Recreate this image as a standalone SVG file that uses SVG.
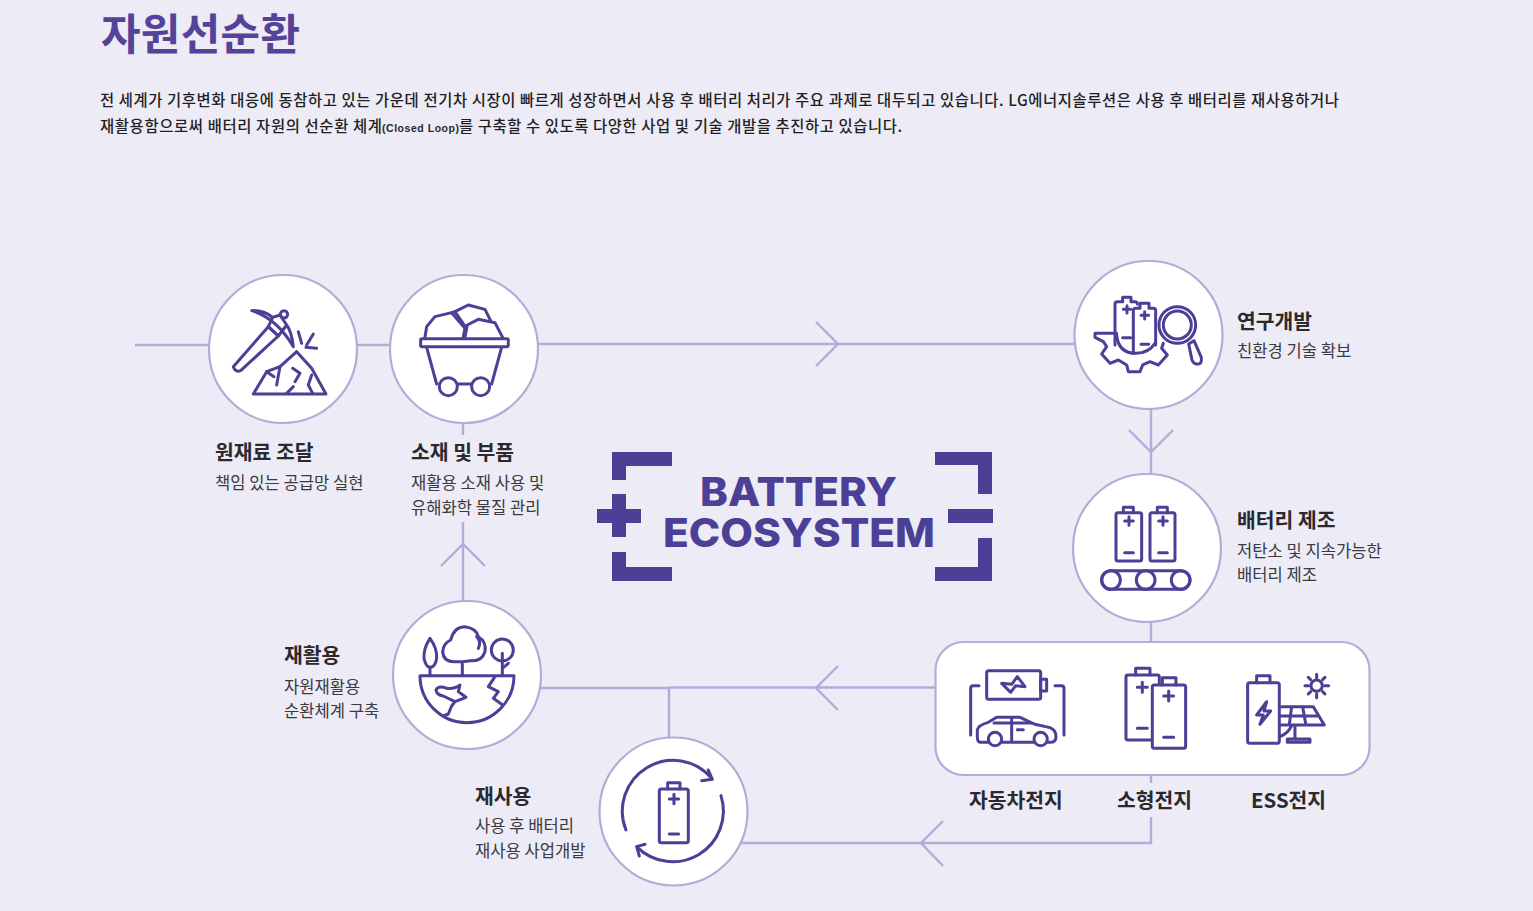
<svg xmlns="http://www.w3.org/2000/svg" width="1533" height="911" viewBox="0 0 1533 911">
<style>
text{font-family:"Noto Sans CJK KR","Noto Sans",sans-serif;fill:#2a2a2e}
.title{font-size:43px;font-weight:700;fill:#55439a}
.para{font-size:15.4px;font-weight:500;fill:#1f1f23}
.small{font-family:"Liberation Sans","Noto Sans CJK KR",sans-serif;font-size:10.5px;font-weight:700}
.h{font-size:20.4px;font-weight:700}
.s{font-size:16.6px;font-weight:400;fill:#3a3a40}
.logo{font-family:Inter,"Liberation Sans",sans-serif;font-size:40px;font-weight:800;fill:#4b3f96}
.c{fill:#fff;stroke:#b3acd8;stroke-width:2.2}
.l{fill:none;stroke:#b3acd8;stroke-width:2.4}
.i{fill:none;stroke:#4b3f96;stroke-width:9;stroke-linejoin:round;stroke-linecap:round}
.iw{fill:#fff}
.b{fill:#4b3f96}
</style>
<rect width="1533" height="911" fill="#edebf6"/>
<g id="header">
<text class="title" x="101" y="50" textLength="199" lengthAdjust="spacing">자원선순환</text>
<text class="para" x="100" y="106" textLength="1239" lengthAdjust="spacing">전 세계가 기후변화 대응에 동참하고 있는 가운데 전기차 시장이 빠르게 성장하면서 사용 후 배터리 처리가 주요 과제로 대두되고 있습니다. LG에너지솔루션은 사용 후 배터리를 재사용하거나</text>
<text class="para" x="100" y="132" textLength="282" lengthAdjust="spacing">재활용함으로써 배터리 자원의 선순환 체계</text>
<text class="small" x="382" y="132" textLength="77" lengthAdjust="spacing">(Closed Loop)</text>
<text class="para" x="459" y="132" textLength="443" lengthAdjust="spacing">를 구축할 수 있도록 다양한 사업 및 기술 개발을 추진하고 있습니다.</text>
</g>
<g id="connectors" class="l">
<path d="M135 345H209M357 345H390M538 344H1074"/>
<path d="M816 322L838 344L816 366"/>
<path d="M1151 408V474M1129 430L1151 452L1173 430"/>
<path d="M1151 622V642M1151 775V783M1151 817V843H741"/>
<path d="M943 821L921 843L943 866"/>
<path d="M541 688H669M669 687.5H935M838 666L816 688L838 710"/>
<path d="M669 687V738"/>
<path d="M463 423V435M463 522V601M441 566L463 544L485 566"/>
</g>
<g id="logo">
<path class="b" d="M612 452H672V466H626V480H612Z"/>
<path class="b" d="M612 494H626V509H641V523H626V537H612V523H597V509H612Z"/>
<path class="b" d="M612 552H626V567H672V581H612Z"/>
<path class="b" d="M935 452H992V494H978V465H935Z"/>
<path class="b" d="M948 509H993V523H948Z"/>
<path class="b" d="M978 538H992V581H935V567H978Z"/>
<text class="logo"><tspan x="700" y="506" textLength="197" lengthAdjust="spacingAndGlyphs">BATTERY</tspan><tspan x="663" y="547" textLength="272" lengthAdjust="spacingAndGlyphs">ECOSYSTEM</tspan></text>
</g>
<g id="node-raw">
<circle class="c" cx="283" cy="349" r="74"/>
<g class="i" transform="translate(130 260) scale(.3333)">
<path d="M310 320L415 200L445 228L332 332Q316 338 310 320Z"/>
<path d="M415 200L428 172L450 165L470 195L445 228Z"/>
<path d="M428 172Q400 150 365 152Q440 175 490 260Q485 215 470 195"/>
<circle cx="462" cy="163" r="11"/>
<path d="M505 215L515 250M550 222L530 255M528 262L560 265"/>
<path d="M370 402H588L545 325L500 275L450 320L410 335Z"/>
<path d="M410 335L432 350M450 320L440 375M488 325L510 340L495 365M545 345L535 375L548 400M470 400L490 380"/>
</g>
<text class="h" x="215" y="460">원재료 조달</text>
<text class="s" x="215" y="489">책임 있는 공급망 실현</text>
</g>
<g id="node-material">
<circle class="c" cx="464" cy="349" r="74"/>
<g class="i" transform="translate(130 260) scale(.3333)">
<path d="M885 232L890 200L915 170L965 158L1005 205L1000 232"/>
<path d="M975 155L1015 135L1065 148L1082 182"/>
<path d="M965 158L975 155L1005 198"/>
<path d="M1005 232L1012 195L1045 178L1095 188L1118 232"/>
<rect x="872" y="236" width="263" height="24" rx="4"/>
<path d="M890 262L920 372M1115 262L1085 372M985 372H1022"/>
<circle cx="955" cy="380" r="27"/>
<circle cx="1052" cy="380" r="27"/>
</g>
<text class="h" x="411" y="460">소재 및 부품</text>
<text class="s" x="411" y="489">재활용 소재 사용 및</text>
<text class="s" x="411" y="514">유해화학 물질 관리</text>
</g>
<g id="node-rnd">
<circle class="c" cx="1148.5" cy="335" r="74"/>
<g class="i" transform="translate(1060 250) scale(.3333)">
<path d="M165 285V162Q165 155 172 155H188V142H213V155H225Q232 155 232 162"/>
<path d="M220 310V182Q220 175 227 175H240V160H267V175H280Q287 175 287 182V285"/>
<path d="M190 178H212M201 167V189M243 196H266M254 185V207M188 263H212M243 283H266"/>
<path d="M170 250H105V262L130 275L140 290L125 312L150 340L175 330L200 345L205 365H240L248 345L270 335L295 345L322 315L305 295L310 280"/>
<path d="M170 255Q175 310 228 310Q265 310 285 280"/>
<circle cx="352" cy="225" r="55"/>
<circle cx="352" cy="225" r="42"/>
<path d="M386 282L402 272L424 322Q428 345 408 342Q400 340 396 330Z"/>
</g>
<text class="h" x="1237" y="329">연구개발</text>
<text class="s" x="1237" y="357">친환경 기술 확보</text>
</g>
<g id="node-mfg">
<circle class="c" cx="1147" cy="548" r="74"/>
<g class="i" transform="translate(1060 250) scale(.3333)">
<rect x="168" y="788" width="77" height="145" rx="6"/>
<path d="M190 788V772H220V788M194 813H220M207 800V826M194 908H220"/>
<rect x="270" y="788" width="75" height="145" rx="6"/>
<path d="M292 788V772H322V788M296 813H322M309 800V826M296 908H322"/>
<rect x="125" y="962" width="265" height="56" rx="28"/>
<circle cx="153" cy="990" r="28"/>
<circle cx="257" cy="990" r="28"/>
<circle cx="362" cy="990" r="28"/>
</g>
<text class="h" x="1237" y="528">배터리 제조</text>
<text class="s" x="1237" y="557">저탄소 및 지속가능한</text>
<text class="s" x="1237" y="581">배터리 제조</text>
</g>
<g id="node-products">
<rect class="c" x="935.5" y="642" width="434" height="133" rx="28"/>
<g class="i" transform="translate(930 635) scale(.3333)">
<rect x="170" y="107" width="162" height="86" rx="6"/>
<rect x="332" y="133" width="18" height="35"/>
<path d="M215 145L245 148L262 125L285 155L257 152L242 172Z"/>
<path d="M147 152H130Q122 152 122 160V300M375 152H394Q402 152 402 160V300"/>
<path d="M175 322H152Q142 322 142 305V285Q145 270 175 262L200 247H270L315 268L360 278Q378 285 378 305Q378 322 360 322H352M312 322H215"/>
<path d="M192 264H302M245 248V318M262 284H280"/>
<circle cx="195" cy="312" r="20"/>
<circle cx="332" cy="312" r="20"/>
<path d="M617 120V100H660V120"/>
<rect x="588" y="120" width="100" height="195" rx="6"/>
<path d="M622 157H652M637 142V172M622 280H652"/>
<rect class="iw" x="667" y="150" width="100" height="190" rx="6"/>
<path d="M697 150V128H738V150"/>
<path d="M701 183H731M716 168V198M701 307H731"/>
<rect x="953" y="143" width="95" height="182" rx="6"/>
<path d="M980 143V122H1020V143"/>
<path d="M1010 200L980 240H1000L990 268L1022 228H1002Z"/>
<path d="M1055 215H1150L1183 270H1050M1085 215L1078 270M1118 215L1128 270M1052 243H1165M1095 270V312M1072 322V312H1140V322H1072M1050 305Q1075 295 1085 272"/>
<circle cx="1160" cy="152" r="17"/>
<path d="M1160 118V128M1160 176V188M1125 152H1136M1184 152H1196M1135 127L1142 134M1178 170L1185 177M1135 177L1142 170M1178 134L1185 127"/>
</g>
<text class="h" x="969" y="808">자동차전지</text>
<text class="h" x="1117" y="808">소형전지</text>
<text class="h" x="1251" y="808">ESS전지</text>
</g>
<g id="node-recycle">
<circle class="c" cx="467" cy="675" r="74"/>
<g class="i" transform="translate(380 590) scale(.3333)">
<path d="M120 257H402A141 141 0 0 1 120 257Z"/>
<path d="M150 145Q130 175 132 205Q138 232 150 232Q166 232 170 205Q172 175 150 145ZM150 232V257"/>
<path d="M247 257V215M222 215Q190 215 188 185Q190 160 212 150Q222 110 255 110Q290 115 295 140Q320 155 315 185Q305 215 272 212L247 215Q235 215 222 215ZM290 140Q305 155 295 175"/>
<circle cx="367" cy="180" r="33"/>
<path d="M367 190V257M367 235L385 220"/>
<path d="M345 260L325 290L355 305L340 325L368 345"/>
<path d="M168 300Q175 285 200 295Q225 298 240 285L235 305L258 322L225 335L215 348L205 372L190 378M168 300Q170 315 190 318L225 335"/>
</g>
<text class="h" x="284" y="663">재활용</text>
<text class="s" x="284" y="693">자원재활용</text>
<text class="s" x="284" y="717">순환체계 구축</text>
</g>
<g id="node-reuse">
<circle class="c" cx="673.5" cy="811.5" r="74"/>
<g class="i" transform="translate(380 590) scale(.3333)">
<rect x="838" y="597" width="87" height="161" rx="6"/>
<path d="M863 597V578H900V597M868 627H896M882 613V641M868 732H896"/>
<path d="M738 720A152 152 0 0 1 995 565M965 572L997 568L985 540"/>
<path d="M1023 617A152 152 0 0 1 770 770M795 763L770 770L778 798"/>
</g>
<text class="h" x="475" y="804">재사용</text>
<text class="s" x="475" y="832">사용 후 배터리</text>
<text class="s" x="475" y="857">재사용 사업개발</text>
</g>
</svg>
